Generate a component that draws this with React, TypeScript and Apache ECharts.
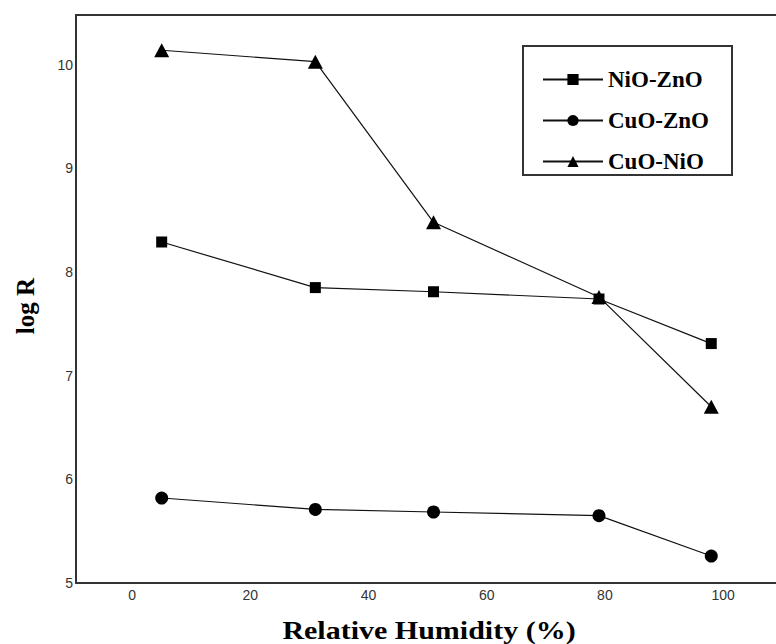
import React, { useEffect, useRef } from "react";
import * as echarts from "echarts";

const humidity = [5, 31, 51, 79, 98];
const nioZno = [8.29, 7.85, 7.81, 7.74, 7.31];
const cuoZno = [5.82, 5.71, 5.685, 5.65, 5.26];
const cuoNio = [10.14, 10.03, 8.48, 7.76, 6.7];
const xTicks = [0, 20, 40, 60, 80, 100];
const yTicks = [5, 6, 7, 8, 9, 10];
const seriesNames = ["NiO-ZnO", "CuO-ZnO", "CuO-NiO"];

export default function App() {
  const ref = useRef<HTMLDivElement>(null);
  useEffect(() => {
    if (!ref.current) return;
    const chart = echarts.init(ref.current, undefined, { renderer: "svg" });
    const mk = (name: string, vals: number[], symbol: string, size: any) => ({
      name,
      type: "line",
      data: humidity.map((x, i) => [x, vals[i]]),
      symbol,
      symbolSize: size,
      lineStyle: { color: "#111", width: 1.2 },
      itemStyle: { color: "#000" },
      emphasis: { disabled: true },
    });
    const xBase = {
      type: "value",
      min: -9.5,
      max: 112,
      axisTick: { show: false },
      splitLine: { show: false },
    };
    chart.setOption({
      animation: false,
      backgroundColor: "#fff",
      grid: { left: 76, top: 15, right: 6, bottom: 61 },
      legend: {
        orient: "vertical",
        left: 537,
        top: 63,
        itemWidth: 60,
        itemHeight: 14,
        itemGap: 18,
        data: seriesNames,
        textStyle: { fontFamily: "Liberation Serif", fontWeight: "bold", fontSize: 23, color: "#000" },
        selectedMode: false,
      },
      xAxis: [
        {
          ...xBase,
          position: "bottom",
          axisLine: { show: true, onZero: false, lineStyle: { color: "#333", width: 2 } },
          axisLabel: { customValues: xTicks, color: "#333", fontSize: 14, fontFamily: "Liberation Sans", margin: 5 },
        },
        {
          ...xBase,
          position: "top",
          axisLine: { show: true, onZero: false, lineStyle: { color: "#333", width: 2 } },
          axisLabel: { show: false },
        },
      ],
      yAxis: {
        type: "value",
        min: 5,
        max: 10.48,
        axisLine: { show: true, onZero: false, lineStyle: { color: "#333", width: 2 } },
        axisTick: { show: false },
        splitLine: { show: false },
        axisLabel: { customValues: yTicks, color: "#333", fontSize: 14, fontFamily: "Liberation Sans", margin: 3 },
      },
      graphic: [
        {
          type: "rect",
          shape: { x: 523, y: 46, width: 209, height: 129 },
          style: { fill: "none", stroke: "#333", lineWidth: 2 },
          z: 10,
        },
        {
          type: "text",
          x: 429,
          y: 630,
          scaleX: 1.2,
          style: {
            text: "Relative Humidity (%)",
            font: "bold 25px 'Liberation Serif'",
            fill: "#000",
            align: "center",
            verticalAlign: "middle",
          },
        },
        {
          type: "text",
          x: 25,
          y: 306,
          rotation: Math.PI / 2,
          style: {
            text: "log R",
            font: "bold 25px 'Liberation Serif'",
            fill: "#000",
            align: "center",
            verticalAlign: "middle",
          },
        },
      ],
      series: [
        mk(seriesNames[0], nioZno, "rect", 11),
        mk(seriesNames[1], cuoZno, "circle", 13),
        mk(seriesNames[2], cuoNio, "triangle", [15, 14]),
      ],
    });
    return () => chart.dispose();
  }, []);
  return <div ref={ref} style={{ position: "fixed", left: 0, top: 0, width: 800, height: 644 }} />;
}
